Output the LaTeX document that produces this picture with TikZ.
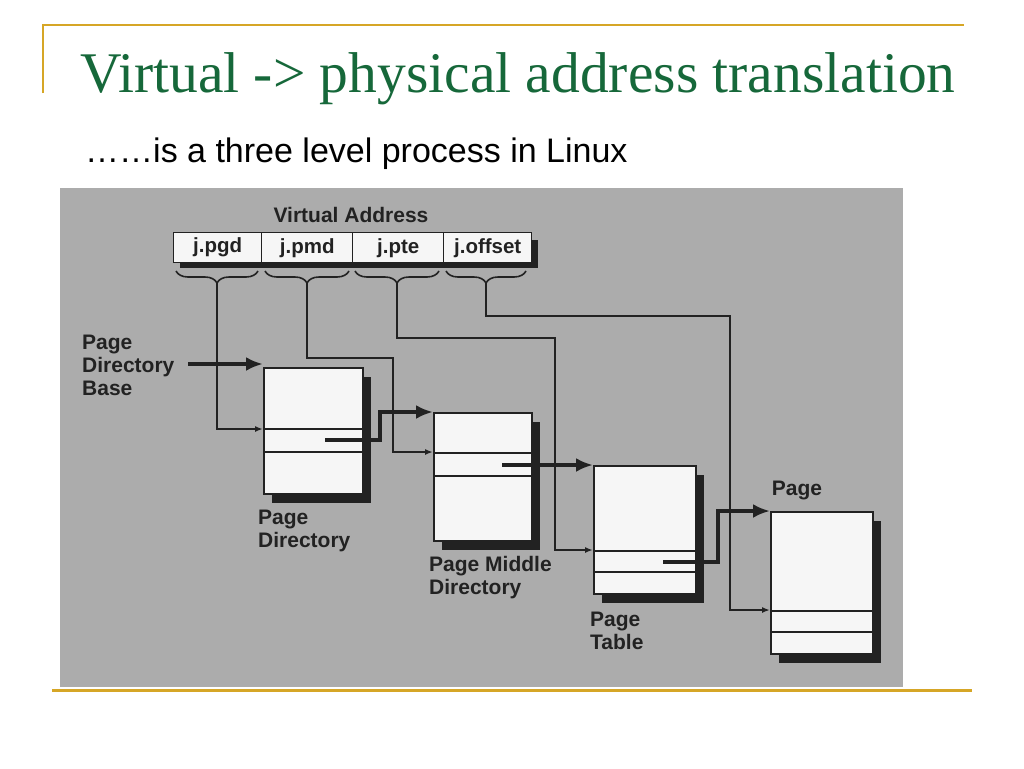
\documentclass[tikz,border=0pt]{standalone}
\usepackage{fontspec}
\setmainfont{Liberation Serif}
\setsansfont{Liberation Sans}
\usepackage{xcolor}
\usepackage{tikz}
\usetikzlibrary{arrows.meta,shadows,decorations.pathreplacing}

\definecolor{titlegreen}{RGB}{22,104,58}
\definecolor{rulegold}{RGB}{214,166,38}
\definecolor{scangrey}{RGB}{172,172,172}
\definecolor{paper}{RGB}{246,246,246}
\definecolor{ink}{RGB}{34,34,34}

\tikzset{
	rule/.style={draw=rulegold},
	tbl/.style={draw=ink, line width=1.6pt, fill=paper, anchor=north west, inner sep=0pt,
		drop shadow={shadow xshift=8pt, shadow yshift=-9pt, fill=ink, opacity=1}},
	fld/.style={draw=ink, line width=1.4pt, fill=paper, anchor=north west, inner sep=0pt,
		minimum height=30pt, text=ink, font=\sffamily\bfseries\fontsize{20.5}{20}\selectfont},
	lbl/.style={inner sep=0pt, align=left, text=ink, font=\sffamily\bfseries\fontsize{21}{23}\selectfont},
	wire/.style={draw=ink, line width=1.6pt},
	tip/.style={-{Latex[length=8pt,width=6pt]}},
	ptr/.style={draw=ink, line width=4pt, -{Latex[length=17pt,width=14pt]}},
	brc/.style={draw=ink, line width=1.6pt, decorate, decoration={brace, mirror, amplitude=12pt}}
}

\begin{document}
\begin{tikzpicture}[x=1pt,y=-1pt]

	\useasboundingbox[fill=white] (0,0) rectangle (1024,768);

	\draw[rule, line width=2pt] (43,93)--(43,25)--(964,25);
	\draw[rule, line width=3pt] (52,690)--(972,690);

	\node[anchor=base west, inner sep=0pt, text=titlegreen, font=\fontsize{57.5}{60}\selectfont] (title) at (80,92) {Virtual -> physical address translation};
	\node[anchor=base west, inner sep=0pt, font=\sffamily\fontsize{34}{36}\selectfont] (sub) at (85,162) {……is a three level process in Linux};

	\fill[scangrey] (60,188) rectangle (903,687);

	\node[lbl] (va) at (351,215) {Virtual Address};
	\fill[ink] (180,240) rectangle (538,268);
	\node[fld, minimum width=88pt] (pgd) at (173,232) {j.pgd};
	\node[fld, minimum width=91pt] (pmd) at (261,232) {j.pmd};
	\node[fld, minimum width=91pt] (pte) at (352,232) {j.pte};
	\node[fld, minimum width=88pt] (off) at (443,232) {j.offset};

	\foreach \l/\r/\n in {176/258/1, 265/349/2, 355/439/3, 446/526/4} {
		\draw[brc] (\l,271) -- (\r,271);
		\coordinate (b\n) at ({(\l+\r)/2},283);
	}

	\node[tbl, minimum width=99pt, minimum height=126pt] (pd) at (263,367) {};
	\node[tbl, minimum width=98pt, minimum height=128pt] (pm) at (433,412) {};
	\node[tbl, minimum width=102pt, minimum height=128pt] (pt) at (593,465) {};
	\node[tbl, minimum width=102pt, minimum height=142pt] (pg) at (770,511) {};

	\foreach \t/\a/\b in {pd/429/452, pm/453/476, pt/551/572, pg/611/632} {
		\draw[wire] (\t.west |- 0,\a) -- (\t.east |- 0,\a);
		\draw[wire] (\t.west |- 0,\b) -- (\t.east |- 0,\b);
	}

	\node[lbl, anchor=west] (pdb) at (82,365) {Page\\Directory\\Base};
	\node[lbl, anchor=west] (pdl) at (258,531) {Page\\Directory};
	\node[lbl, anchor=west] (pml) at (429,578) {Page Middle\\Directory};
	\node[lbl, anchor=west] (ptl) at (590,631) {Page\\Table};
	\node[lbl] (pgl) at (797,490) {Page};

	\coordinate (pd-in) at (263,429);
	\coordinate (pm-in) at (433,452);
	\coordinate (pt-in) at (593,550);
	\coordinate (pg-in) at (770,610);
	\coordinate (pdb-out) at (188,364);
	\coordinate (pd-e) at (325,440);
	\coordinate (pm-e) at (502,465);
	\coordinate (pt-e) at (663,562);

	\draw[wire, tip] (b1) |- (pd-in);
	\draw[wire, tip] (b2) |- (393,358) |- (pm-in);
	\draw[wire, tip] (b3) |- (555,338) |- (pt-in);
	\draw[wire, tip] (b4) |- (730,316) |- (pg-in);

	\draw[ptr] (pdb-out) -- (pdb-out -| pd.north west);
	\draw[ptr] (pd-e) -- ++(55,0) |- (pm.north west);
	\draw[ptr] (pm-e) -- (pt.north west);
	\draw[ptr] (pt-e) -- ++(55,0) |- (pg.north west);

\end{tikzpicture}
\end{document}
